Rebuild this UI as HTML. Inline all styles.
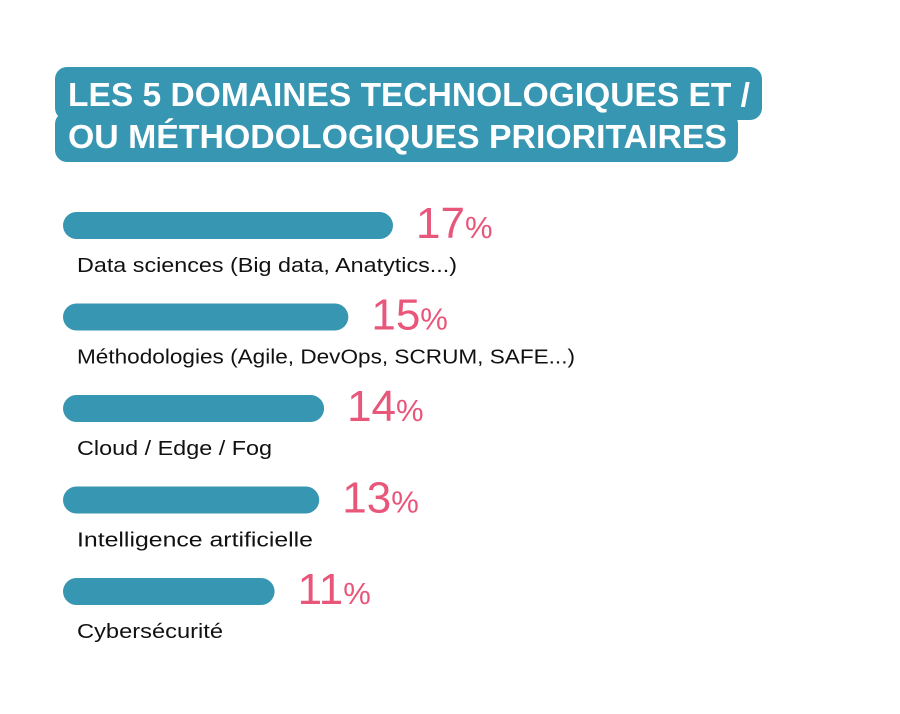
<!DOCTYPE html>
<html><head><meta charset="utf-8"><style>
html,body{margin:0;padding:0;background:#fff;}
svg{display:block;}
</style></head><body>
<svg id="chart" width="900" height="714" viewBox="0 0 900 714" xmlns="http://www.w3.org/2000/svg">
  <g>
    <rect x="55" y="67" width="707" height="53" rx="12" fill="#3796b1"/>
    <rect x="55" y="112" width="683" height="50" rx="12" fill="#3796b1"/>
    <text x="68" y="106" fill="#fff" font-family="Liberation Sans, sans-serif" font-weight="bold" font-size="33" textLength="682" lengthAdjust="spacingAndGlyphs">LES 5 DOMAINES TECHNOLOGIQUES ET /</text>
    <text x="68" y="148" fill="#fff" font-family="Liberation Sans, sans-serif" font-weight="bold" font-size="33" textLength="659" lengthAdjust="spacingAndGlyphs">OU MÉTHODOLOGIQUES PRIORITAIRES</text>
  </g>
  <g id="bars"></g>
</svg>
<script>
const categories = ["Data sciences (Big data, Anatytics...)", "Méthodologies (Agile, DevOps, SCRUM, SAFE...)", "Cloud / Edge / Fog", "Intelligence artificielle", "Cybersécurité"];
const values = [17, 14.7, 13.45, 13.2, 10.9];
const valueLabels = ["17", "15", "14", "13", "11"];
const labelLengths = [380, 498, 195, 236, 146];

const NS = "http://www.w3.org/2000/svg";
const x0 = 63, unit = 330 / 17;
const xScale = v => v * unit;
const rowTop = i => 212 + i * 91.5;
const g = document.getElementById("bars");
function mk(tag, attrs) { const e = document.createElementNS(NS, tag); for (const k in attrs) e.setAttribute(k, attrs[k]); return e; }

values.forEach((v, i) => {
  const y = rowTop(i);
  const w = xScale(v);
  const bar = mk("rect", {x: x0, y: y, width: w, height: 27, rx: 13.5, fill: "#3796b1"});
  
  
  g.appendChild(bar);

  const t = mk("text", {x: x0 + w + 23, y: y + 26, fill: "#e8567a", "font-family": "Liberation Sans, sans-serif", "font-size": "44", "font-weight": "300"});
  
  
  t.textContent = valueLabels[i];
  const pct = mk("tspan", {"font-size": "31"});
  pct.textContent = "%";
  t.appendChild(pct);
  g.appendChild(t);

  const lab = mk("text", {x: 77, y: y + 60, fill: "#111", "font-family": "Liberation Sans, sans-serif", "font-size": "20", textLength: labelLengths[i], lengthAdjust: "spacingAndGlyphs"});
  
  
  lab.textContent = categories[i];
  g.appendChild(lab);
});
</script>
</body></html>
